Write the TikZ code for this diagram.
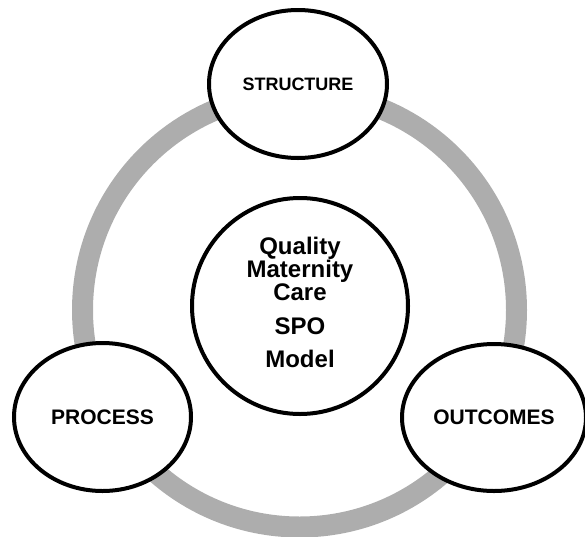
\documentclass[tikz,border=0pt]{standalone}
\usepackage{fontspec}
\setmainfont{Liberation Sans}
\usetikzlibrary{positioning,
        shapes.geometric}
\definecolor{ringgray}{HTML}{ADADAD}

\tikzset{
    phase/.style={ellipse,draw,line width=3pt,fill=white,inner sep=0pt,
        font=\bfseries\fontsize{15.75}{18}\selectfont},
    hubcircle/.style={circle,draw,line width=3pt,fill=white,inner sep=0pt,align=center,
        font=\bfseries\fontsize{18}{17.25}\selectfont}
}

\begin{document}
\begin{tikzpicture}[x=0.75pt,y=-0.75pt]
            \useasboundingbox (0,0) rectangle (585,536);
            \coordinate (ringmid) at (299.5,310);

            % grey ring behind the three phases
            \draw [ringgray,line width=15.75pt] (ringmid) circle [radius=217];

            \node [phase,minimum width=133.5pt,minimum height=111pt,font=\bfseries\fontsize{13.5}{16}\selectfont] (structure) at (298,84) {STRUCTURE};
            \node [phase,minimum width=132.75pt,minimum height=111pt] (process) at (102.5,417) {PROCESS};
            \node [phase,minimum width=138pt,minimum height=110.25pt] (outcomes) at (494,417.5) {OUTCOMES};
            \node [hubcircle,minimum size=162pt,text depth=6pt] (spo) at (300,306) {Quality\\Maternity\\Care\\[8.25pt]SPO\\[7.5pt]Model};
        \end{tikzpicture}
\end{document}
